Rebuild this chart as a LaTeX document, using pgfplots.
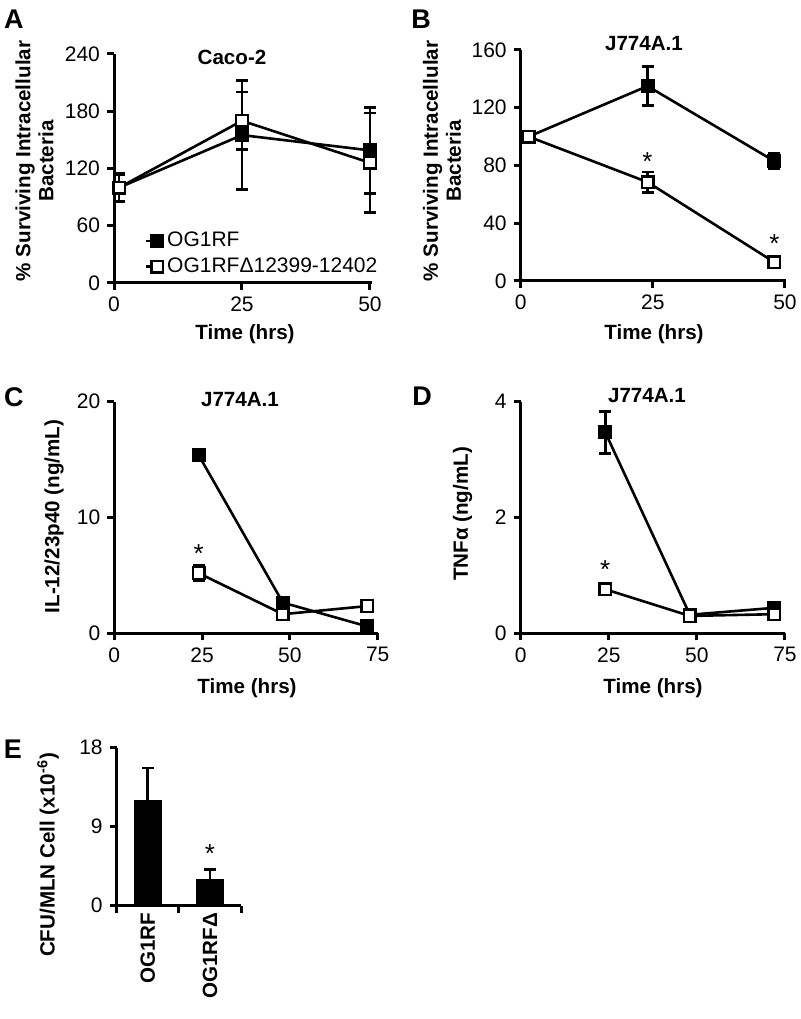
\documentclass[border=0pt]{standalone}
\usepackage{pgfplots}
\pgfplotsset{compat=1.18}
\usepackage{fontspec}
\setmainfont{Liberation Sans}

\newcommand{\tickfont}{\fontsize{10.5}{12}\selectfont}
\newcommand{\labfont}{\fontsize{10.3}{11.5}\selectfont\bfseries}
\newcommand{\starfont}{\fontsize{13}{13}\selectfont}

\pgfplotsset{
  panel/.style={
    scale only axis, anchor=south west,
    axis x line=bottom, axis y line=left,
    axis line style={-, line width=1.5pt},
    tick style={line width=1.5pt, black},
    major tick length=3.5pt, tick align=outside,
    ticklabel style={font=\tickfont},
    /pgf/number format/assume math mode=true,
    clip=false,
    legend image code/.code={\draw[mark repeat=2,mark phase=2,#1] plot coordinates {(0pt,0pt) (5.5pt,0pt) (5.5pt,0pt)};},
  },
  filled/.style={black, line width=1.3pt, mark=square*, mark size=2.9pt,
    mark options={solid, fill=black, line width=1.2pt},
    error bars/.cd, y dir=both, y explicit, error bar style={line width=1.3pt, black},
    error mark options={rotate=90, mark size=3pt, line width=1.3pt, black}},
  open/.style={black, line width=1.3pt, mark=square*, mark size=2.9pt,
    mark options={solid, fill=white, draw=black, line width=1.2pt},
    error bars/.cd, y dir=both, y explicit, error bar style={line width=1.3pt, black},
    error mark options={rotate=90, mark size=3pt, line width=1.3pt, black}},
}

\begin{document}
\begin{tikzpicture}
\path[use as bounding box] (0pt,0pt) rectangle (400pt,509.5pt);

% ---------- A ----------
\begin{axis}[panel, at={(57pt,368pt)}, width=129pt, height=114.5pt,
  xmin=0, xmax=50.4, ymin=0, ymax=240, xtick={0,25,50}, ytick={0,60,120,180,240},
  legend style={at={(axis cs:6,58)}, anchor=north west, draw=none, fill=none,
    font=\tickfont, inner sep=0pt, row sep=0pt, legend cell align=left},
  ]
\addplot[filled] coordinates {(1,100) +- (0,15) (25,155) +- (0,57) (50,139) +- (0,45)};
\addlegendentry{OG1RF}
\addplot[open] coordinates {(1,100) +- (0,14) (25,170) +- (0,30) (50,126) +- (0,52)};
\addlegendentry{OG1RFΔ12399-12402}
\end{axis}

% ---------- B ----------
\begin{axis}[panel, at={(260.35pt,369pt)}, width=132.65pt, height=115.5pt,
  xmin=0, xmax=50.2, ymin=0, ymax=160, xtick={0,25,50}, ytick={0,40,80,120,160}]
\addplot[filled] coordinates {(1.5,100) +- (0,0) (24,135) +- (0,13.5) (48,83) +- (0,5.5)};
\addplot[open] coordinates {(1.5,100) +- (0,0) (24,68.5) +- (0,7) (48,13) +- (0,4)};
\node[font=\starfont] at (axis cs:24,83) {*};
\node[font=\starfont] at (axis cs:48,26) {*};
\end{axis}

% ---------- C ----------
\begin{axis}[panel, at={(57.15pt,192.85pt)}, width=131.7pt, height=115.8pt,
  xmin=0, xmax=75, ymin=0, ymax=20, xtick={0,25,50,75}, ytick={0,10,20}]
\addplot[filled] coordinates {(24,15.4) +- (0,0.2) (48,2.65) +- (0,0.2) (72,0.6) +- (0,0.15)};
\addplot[open] coordinates {(24,5.2) +- (0,0.7) (48,1.65) +- (0,0.2) (72,2.35) +- (0,0.2)};
\node[font=\starfont] at (axis cs:24,6.9) {*};
\end{axis}

% ---------- D ----------
\begin{axis}[panel, at={(260.35pt,192.85pt)}, width=132.15pt, height=115.8pt,
  xmin=0, xmax=75, ymin=0, ymax=4, xtick={0,25,50,75}, ytick={0,2,4}]
\addplot[filled] coordinates {(24,3.47) +- (0,0.36) (48,0.32) +- (0,0.03) (72,0.44) +- (0,0.05)};
\addplot[open] coordinates {(24,0.76) +- (0,0.1) (48,0.30) +- (0,0.03) (72,0.33) +- (0,0.05)};
\node[font=\starfont] at (axis cs:24,1.1) {*};
\end{axis}

% ---------- E ----------
\begin{axis}[panel, at={(58.35pt,56.65pt)}, width=62.15pt, height=79pt,
  xmin=0, xmax=2, ymin=0, ymax=18, ytick={0,9,18},
  xtick={0,1,2}, xticklabels={,,},
  extra x ticks={0.5,1.5}, extra x tick labels={OG1RF,OG1RFΔ},
  extra x tick style={major tick length=0pt,
    tick label style={rotate=90, anchor=east, font=\labfont}},
  ]
\addplot[ybar, bar width=13.5pt, fill=black, draw=black,
  error bars/.cd, y dir=plus, y explicit, error bar style={line width=1.3pt, black},
  error mark options={rotate=90, mark size=3pt, line width=1.3pt, black}]
  coordinates {(0.5,12.0) +- (0,3.7) (1.5,3.0) +- (0,1.1)};
\node[font=\starfont] at (axis cs:1.5,5.9) {*};
\end{axis}

% ---------- texts ----------
\node[font=\fontsize{13.5}{13.5}\selectfont\bfseries] at (7pt,500pt) {A};
\node[font=\fontsize{13.5}{13.5}\selectfont\bfseries] at (210.5pt,500pt) {B};
\node[font=\fontsize{13.5}{13.5}\selectfont\bfseries] at (7pt,311pt) {C};
\node[font=\fontsize{13.5}{13.5}\selectfont\bfseries] at (211pt,311.5pt) {D};
\node[font=\fontsize{13.5}{13.5}\selectfont\bfseries] at (6.5pt,135pt) {E};

\node[font=\labfont] at (116pt,481pt) {Caco-2};
\node[font=\labfont] at (322pt,487.5pt) {J774A.1};
\node[font=\labfont] at (120pt,309.5pt) {J774A.1};
\node[font=\labfont] at (323.5pt,311.5pt) {J774A.1};

\node[font=\labfont] at (122.5pt,342.5pt) {Time (hrs)};
\node[font=\labfont] at (327pt,342.5pt) {Time (hrs)};
\node[font=\labfont] at (123.5pt,165.5pt) {Time (hrs)};
\node[font=\labfont] at (326.5pt,165.5pt) {Time (hrs)};

\node[font=\labfont, rotate=90, align=center] at (17.25pt,429pt) {\% Surviving Intracellular\\Bacteria};
\node[font=\labfont, rotate=90, align=center] at (221pt,429pt) {\% Surviving Intracellular\\Bacteria};
\node[font=\labfont, rotate=90] at (27pt,251.25pt) {IL-12/23p40 (ng/mL)};
\node[font=\labfont, rotate=90] at (231.25pt,252.5pt) {TNFα (ng/mL)};
\node[font=\labfont, rotate=90] at (24pt,82pt) {CFU/MLN Cell (x10\textsuperscript{-6})};
\end{tikzpicture}
\end{document}
